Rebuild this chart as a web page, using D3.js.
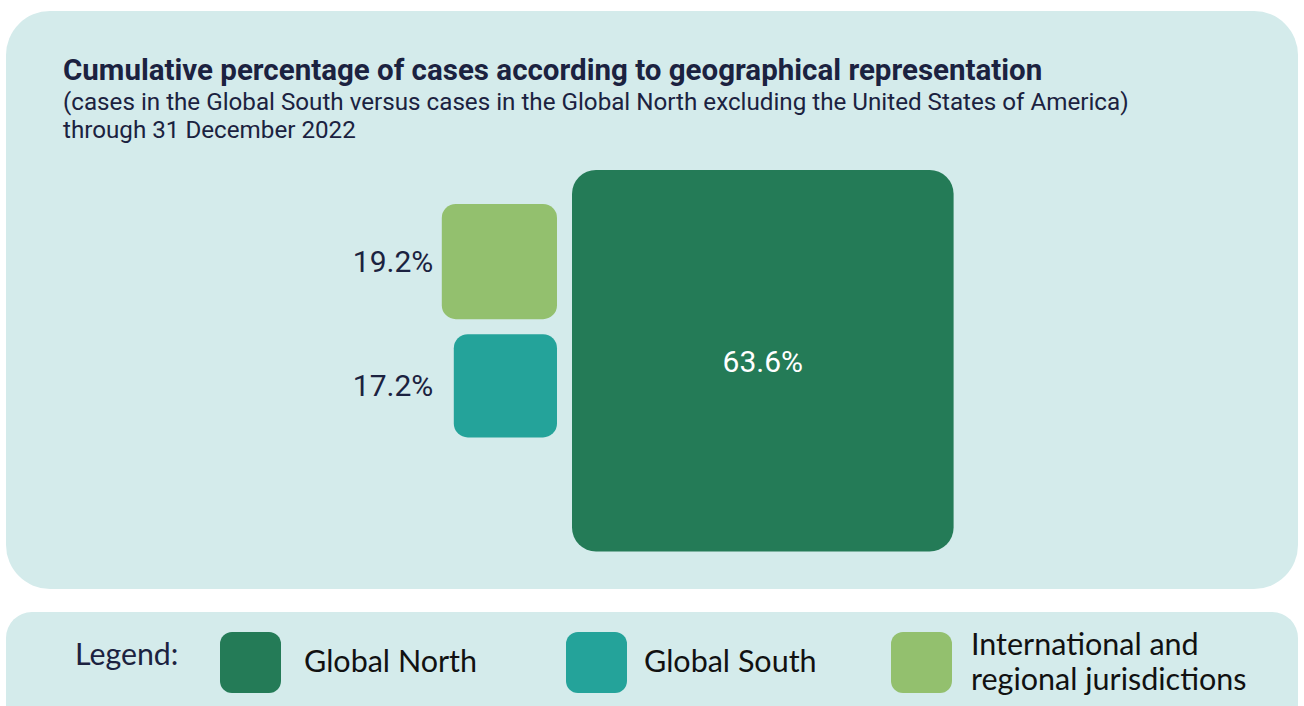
<!DOCTYPE html>
<html>
<head>
<meta charset="utf-8">
<script src="https://cdn.jsdelivr.net/npm/d3@7"></script>
<style>
  body { margin: 0; background: #fff; }
  svg { display: block; }
</style>
</head>
<body>
<svg id="chart"></svg>
<script>
// chart data
const categories = ["Global North", "Global South", "International and regional jurisdictions"];
const values = [63.6, 17.2, 19.2];
const colors = ["#247b57", "#24a39a", "#93c06e"];
const legendLines = [["Global North"], ["Global South"], ["International and", "regional jurisdictions"]];

const W = 1304, H = 706;
const navy = "#1b2240";

const svg = d3.select("#chart").attr("width", W).attr("height", H);

// panels
svg.append("rect")
    .attr("x", 6).attr("y", 11)
    .attr("width", 1292).attr("height", 578)
    .attr("rx", 44)
    .attr("fill", "#d4ebeb");
svg.append("rect")
    .attr("x", 6).attr("y", 612)
    .attr("width", 1292).attr("height", 130)
    .attr("rx", 26)
    .attr("fill", "#d4ebeb");

// titles
svg.append("text")
    .attr("x", 63).attr("y", 80)
    .attr("font-family", "Roboto")
    .attr("font-weight", 700)
    .attr("font-size", 29.5)
    .attr("fill", navy)
    .text("Cumulative percentage of cases according to geographical representation");
svg.append("text")
    .attr("x", 63).attr("y", 110)
    .attr("font-family", "Roboto")
    .attr("font-size", 24.2)
    .attr("fill", navy)
    .text("(cases in the Global South versus cases in the Global North excluding the United States of America)");
svg.append("text")
    .attr("x", 63).attr("y", 138)
    .attr("font-family", "Roboto")
    .attr("font-size", 24.2)
    .attr("fill", navy)
    .text("through 31 December 2022");

// side of each square is linear in its value
const side = d3.scaleLinear().domain([0, 100]).range([0, 600]);

const big = { x: 572, y: 170 };
const stackRight = 557, stackTop = 204, gap = 15;

const items = categories.map((c, i) => ({ name: c, value: values[i], color: colors[i] }));

// Global North: big square
const north = items[0];
const sN = side(north.value);
svg.append("rect")
    .attr("x", big.x).attr("y", big.y)
    .attr("width", sN).attr("height", sN)
    .attr("rx", 24)
    .attr("fill", north.color);
svg.append("text")
    .attr("x", big.x + sN / 2).attr("y", big.y + sN / 2 + 1)
    .attr("text-anchor", "middle")
    .attr("dominant-baseline", "central")
    .attr("font-family", "Roboto")
    .attr("font-size", 30)
    .attr("fill", "#fff")
    .text(d3.format(".1f")(north.value) + "%");

// smaller squares stacked, international on top then south
const stack = [items[2], items[1]];
let y = stackTop;
stack.forEach(d => {
    const s = side(d.value);
    svg.append("rect")
        .attr("x", stackRight - s).attr("y", y)
        .attr("width", s).attr("height", s)
        .attr("rx", 14)
        .attr("fill", d.color);
    svg.append("text")
        .attr("x", 393).attr("y", y + s / 2)
        .attr("text-anchor", "middle")
        .attr("dominant-baseline", "central")
        .attr("font-family", "Roboto")
        .attr("font-size", 30)
        .attr("fill", navy)
        .text(d3.format(".1f")(d.value) + "%");
    y += s + gap;
});

// legend
svg.append("text")
    .attr("x", 75).attr("y", 665)
    .attr("font-family", "Lato")
    .attr("font-size", 30.3)
    .attr("fill", navy)
    .text("Legend:");

const legendX = [220, 566, 891];
const lg = svg.selectAll("g.leg")
    .data(items)
    .join("g")
    .attr("class", "leg")
    .attr("transform", (d, i) => `translate(${legendX[i]},632)`);
lg.append("rect")
    .attr("width", 61).attr("height", 61)
    .attr("rx", 12)
    .attr("fill", d => d.color);
lg.each(function (d, i) {
    const lines = legendLines[i];
    const t = d3.select(this).append("text")
        .attr("font-family", "Lato")
        .attr("font-size", 30.5)
        .attr("fill", "#111");
    const y0 = lines.length === 1 ? 40 : 23;
    lines.forEach((l, j) => {
        t.append("tspan")
            .attr("x", i === 0 ? 84 : (i === 1 ? 78 : 80))
            .attr("y", y0 + j * 35)
            .text(l);
    });
});
</script>
</body>
</html>
